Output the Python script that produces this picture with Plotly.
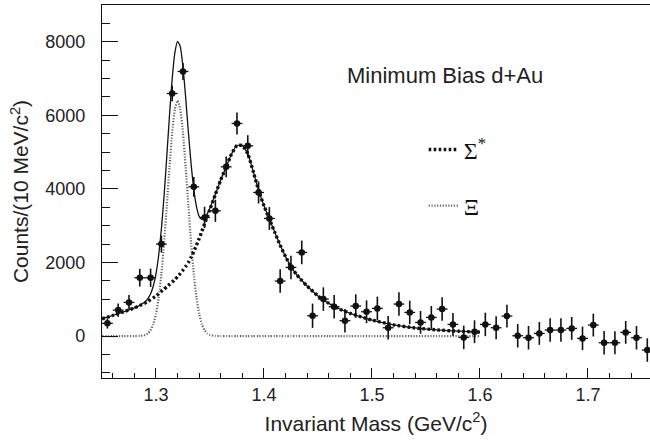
import plotly.graph_objects as go

# ---- data points (bin centres, GeV/c^2) ----
mass = [1.255, 1.265, 1.275, 1.285, 1.295, 1.305, 1.315, 1.325, 1.335, 1.345,
        1.355, 1.365, 1.375, 1.385, 1.395, 1.405, 1.415, 1.425, 1.435, 1.445,
        1.455, 1.465, 1.475, 1.485, 1.495, 1.505, 1.515, 1.525, 1.535, 1.545,
        1.555, 1.565, 1.575, 1.585, 1.595, 1.605, 1.615, 1.625, 1.635, 1.645,
        1.655, 1.665, 1.675, 1.685, 1.695, 1.705, 1.715, 1.725, 1.735, 1.745,
        1.755]
counts = [345, 706, 915, 1585, 1585, 2500, 6595, 7193, 4057, 3225,
          3405, 4600, 5780, 5171, 3904, 3197, 1495, 1866, 2274, 552,
          1005, 797, 417, 815, 661, 752, 226, 870, 643, 371,
          507, 734, 317, -36, 118, 317, 226, 543, 9, -45,
          72, 163, 163, 208, -64, 299, -181, -181, 100, -45,
          -380]
errors = [140, 180, 200, 240, 250, 230, 210, 230, 270, 290,
          300, 280, 300, 290, 300, 310, 320, 320, 320, 330,
          320, 320, 320, 320, 310, 320, 320, 320, 320, 310,
          310, 320, 310, 320, 310, 320, 310, 310, 320, 320,
          310, 320, 320, 310, 320, 310, 320, 310, 310, 320,
          320]
half_bin = 0.005

# ---- fit curves ----
curve_x = [1.25, 1.26, 1.27, 1.28, 1.285, 1.29, 1.2925, 1.295, 1.2975, 1.30,
           1.3025, 1.305, 1.3075, 1.31, 1.3125, 1.315, 1.3175, 1.32, 1.3225, 1.325,
           1.3275, 1.33, 1.3325, 1.335, 1.3375, 1.34, 1.3425, 1.345, 1.3475, 1.35,
           1.355, 1.36, 1.365, 1.37, 1.375, 1.38, 1.385, 1.39, 1.395, 1.40,
           1.405, 1.41, 1.415, 1.42, 1.425, 1.43, 1.435, 1.44, 1.45, 1.46,
           1.47, 1.48, 1.49, 1.50, 1.52, 1.54, 1.56, 1.58, 1.60]
sigma_star = [470, 560, 660, 765, 830, 900, 945, 990, 1040, 1090,
              1150, 1215, 1275, 1340, 1405, 1470, 1540, 1612, 1700, 1790,
              1890, 2000, 2140, 2300, 2470, 2650, 2850, 3050, 3250, 3450,
              3850, 4250, 4600, 4950, 5180, 5180, 4960, 4480, 3970, 3540,
              3180, 2820, 2470, 2160, 1890, 1680, 1510, 1360, 1090, 890,
              735, 615, 520, 435, 305, 220, 168, 132, 107]
xi = [0, 0, 0, 0, 5, 31, 73, 160, 321, 602,
      1048, 1694, 2543, 3546, 4591, 5521, 6168, 6400, 6168, 5521,
      4591, 3546, 2543, 1694, 1048, 602, 321, 160, 73, 31,
      5, 0, 0, 0, 0, 0, 0, 0, 0, 0,
      0, 0, 0, 0, 0, 0, 0, 0, 0, 0,
      0, 0, 0, 0, 0, 0, 0, 0, 0]
total = [470, 560, 660, 765, 835, 931, 1018, 1150, 1361, 1692,
         2198, 2909, 3818, 4886, 5996, 6991, 7708, 8012, 7868, 7311,
         6481, 5546, 4683, 3994, 3518, 3252, 3171, 3210, 3323, 3481,
         3855, 4250, 4600, 4950, 5180, 5180, 4960, 4480, 3970, 3540,
         3180, 2820, 2470, 2160, 1890, 1680, 1510, 1360, 1090, 890,
         735, 615, 520, 435, 305, 220, 168, 132, 107]

x_ticks = [1.3, 1.4, 1.5, 1.6, 1.7]
y_ticks = [0, 2000, 4000, 6000, 8000]

SANS = "Liberation Sans, Arial, Helvetica, sans-serif"
SERIF = "Liberation Serif, Times New Roman, serif"

fig = go.Figure()

fig.add_trace(go.Scatter(
    x=curve_x, y=xi, mode="lines", name="\u039e",
    line=dict(color="#666666", width=2.2, dash="1.2px,1.6px", shape="spline", smoothing=0.5),
    legendgroup="b", legendrank=2, hoverinfo="skip"))
fig.add_trace(go.Scatter(
    x=curve_x, y=sigma_star, mode="lines", name="\u03a3<sup>*</sup>",
    line=dict(color="#111111", width=3.4, dash="2.6px,2.4px", shape="spline", smoothing=0.5),
    legendgroup="a", legendrank=1, hoverinfo="skip"))
fig.add_trace(go.Scatter(
    x=curve_x, y=total, mode="lines", showlegend=False,
    line=dict(color="#111111", width=1.3, shape="spline", smoothing=0.5),
    hoverinfo="skip"))
fig.add_trace(go.Scatter(
    x=mass, y=counts, mode="markers", showlegend=False,
    marker=dict(color="#111111", size=6.5, symbol="circle"),
    error_y=dict(type="data", array=errors, visible=True, color="#111111", thickness=1.6, width=0),
    error_x=dict(type="constant", value=half_bin, visible=True, color="#111111", thickness=1.3, width=0)))

fig.update_layout(
    width=650, height=441,
    margin=dict(l=102, r=0, t=5, b=63),
    paper_bgcolor="white", plot_bgcolor="white",
    font=dict(family=SANS, size=18, color="#222222"),
    legend=dict(x=0.587, y=0.672, xanchor="left", yanchor="top",
                bgcolor="rgba(0,0,0,0)", font=dict(family=SERIF, size=24, color="#111111"),
                traceorder="grouped", tracegroupgap=22),
    annotations=[dict(text="Minimum Bias d+Au", x=0.443, y=0.812, xref="paper", yref="paper",
                      xanchor="left", yanchor="middle", showarrow=False,
                      font=dict(family=SANS, size=22, color="#222222"))],
)

fig.update_xaxes(
    range=[1.25, 1.7575], showline=True, linecolor="#111111", linewidth=1.3, mirror=True,
    ticks="inside", ticklen=10, tickwidth=1.1, tickcolor="#111111",
    tickvals=x_ticks, ticktext=[f"{v:.1f}" for v in x_ticks],
    minor=dict(tick0=1.3, dtick=0.02, ticks="inside", ticklen=5, tickwidth=1.1, tickcolor="#111111"),
    showgrid=False, zeroline=False, ticklabelstandoff=0, tickfont=dict(size=18),
    title=dict(text="Invariant Mass (GeV/c<sup>2</sup>)", standoff=12, font=dict(size=21)),
)
fig.update_yaxes(
    range=[-1140, 9000], showline=True, linecolor="#111111", linewidth=1.3, mirror=False,
    ticks="inside", ticklen=16, tickwidth=1.1, tickcolor="#111111",
    tickvals=y_ticks, ticktext=[str(v) for v in y_ticks],
    minor=dict(tick0=0, dtick=500, ticks="inside", ticklen=8, tickwidth=1.1, tickcolor="#111111"),
    showgrid=False, zeroline=False, ticklabelstandoff=12, tickfont=dict(size=18),
    title=dict(text="Counts/(10 MeV/c<sup>2</sup>)", standoff=10, font=dict(size=21)),
)

fig.write_html("out.html", config={"displayModeBar": False},
               post_script="document.body.style.margin='0px';")
